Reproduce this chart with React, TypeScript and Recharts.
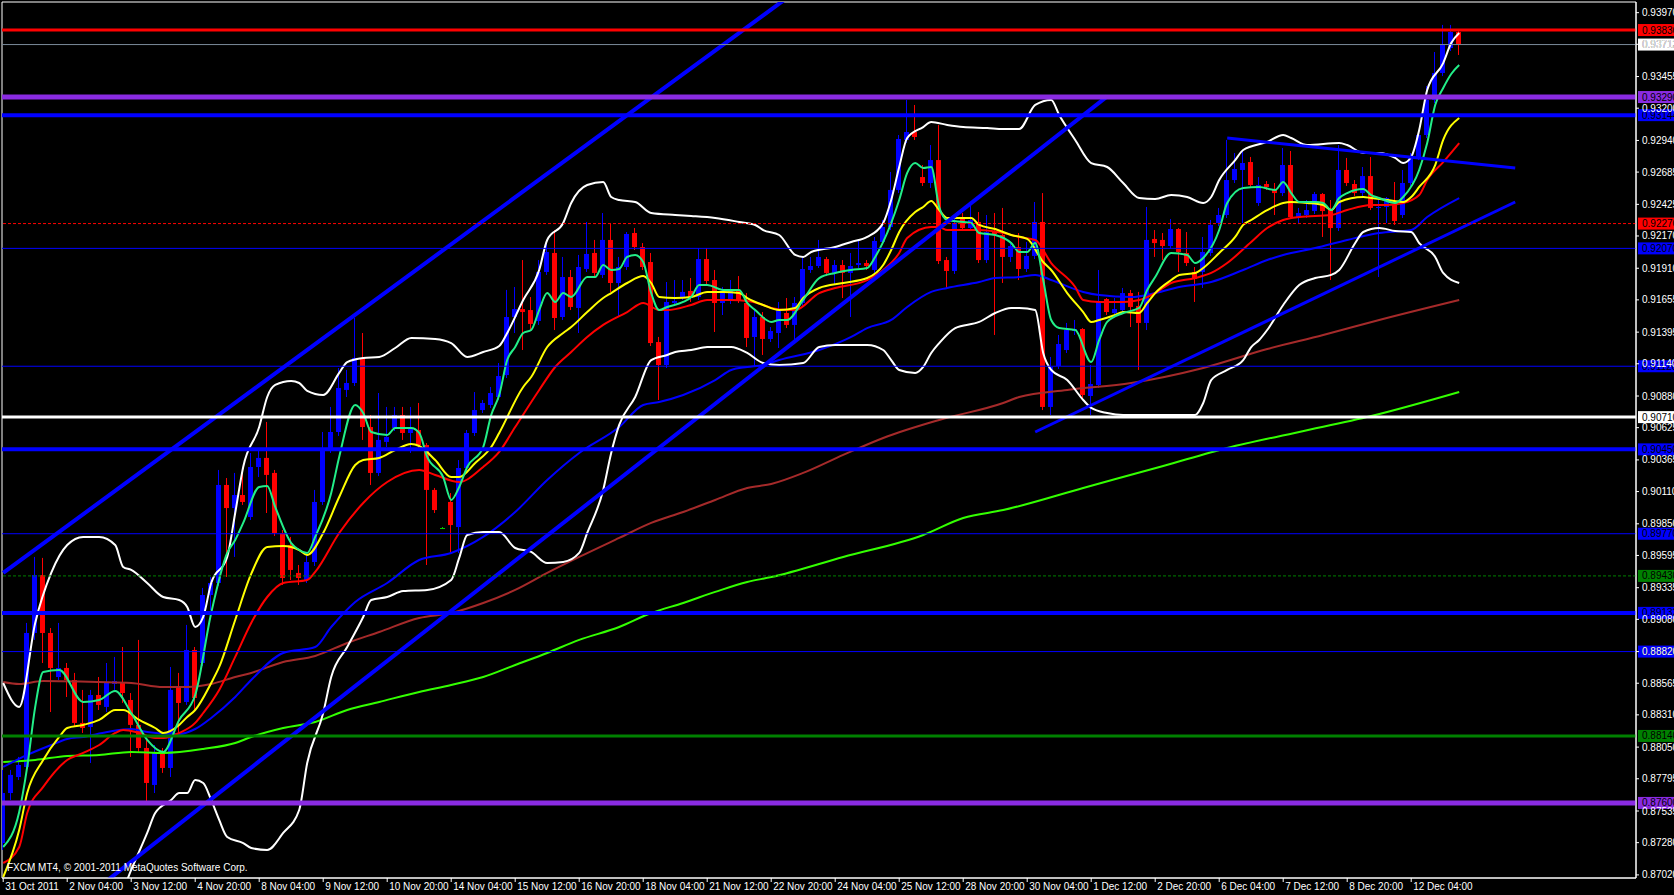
import { Bar, ComposedChart, Line, ReferenceArea, ReferenceLine, XAxis, YAxis } from "recharts";

const FONT = "'Liberation Sans', Arial, sans-serif";

// H4 candles, bar 0 = 31 Oct 2011 20:00
const opens = [
  0.87277, 0.8768, 0.87809, 0.8789, 0.8897, 0.89437, 0.8897, 0.88615, 0.88688, 0.88591,
  0.88245, 0.88212, 0.8847, 0.88374, 0.88559, 0.88575, 0.8843, 0.88229, 0.88043, 0.87745,
  0.88003, 0.87882, 0.88527, 0.88414, 0.88833, 0.88728, 0.89276, 0.89373, 0.90163, 0.89977,
  0.90082, 0.89905, 0.90308, 0.90381, 0.9026, 0.89776, 0.89679, 0.89454, 0.89397, 0.89542,
  0.90026, 0.90445, 0.9059, 0.90929, 0.90985, 0.91187, 0.9063, 0.9026, 0.9051, 0.90622,
  0.90727, 0.90582, 0.90606, 0.90485, 0.90123, 0.89816, 0.90026, 0.89824, 0.903, 0.90582,
  0.90767, 0.90808, 0.90872, 0.91049, 0.91517, 0.91581, 0.91573, 0.91485, 0.9188, 0.92033,
  0.91517, 0.91839, 0.9159, 0.91904, 0.92033, 0.91856, 0.92138, 0.91791, 0.9192, 0.92194,
  0.92081, 0.9196, 0.91315, 0.9113, 0.9163, 0.91678, 0.91727, 0.91678, 0.91984, 0.91815,
  0.9163, 0.91646, 0.91735, 0.9163, 0.91356, 0.91517, 0.9134, 0.91388, 0.91549, 0.91453,
  0.9163, 0.91896, 0.91928, 0.91984, 0.91872, 0.91936, 0.91872, 0.91936, 0.91952, 0.91896,
  0.92122, 0.92242, 0.92541, 0.92944, 0.93008, 0.92645, 0.92597, 0.92782, 0.91976, 0.91888,
  0.92315, 0.92234, 0.92283, 0.91976, 0.92202, 0.92178, 0.92001, 0.92081, 0.91904, 0.92009,
  0.92283, 0.90792, 0.91122, 0.91251, 0.91404, 0.9142, 0.9088, 0.90969, 0.91662, 0.91549,
  0.91573, 0.9171, 0.91606, 0.91469, 0.92146, 0.92138, 0.92089, 0.92226, 0.92033, 0.9188,
  0.9188, 0.92033, 0.92275, 0.92339, 0.92621, 0.92702, 0.92766, 0.92436, 0.92589, 0.92541,
  0.92516, 0.92742, 0.92323, 0.92339, 0.92371, 0.92508, 0.92379, 0.92234, 0.92702, 0.92589,
  0.92516, 0.92653, 0.92396, 0.92404, 0.9242, 0.92339, 0.92597, 0.92807, 0.92984, 0.93266,
  0.93484, 0.93685, 0.93814,
];
const highs = [
  0.87866, 0.87866, 0.87971, 0.89051, 0.89583, 0.89575, 0.8901, 0.89051, 0.88728, 0.88648,
  0.88511, 0.88511, 0.88615, 0.88728, 0.88777, 0.88857, 0.88486, 0.88914, 0.88108, 0.88067,
  0.88043, 0.88696, 0.88648, 0.89035, 0.88857, 0.89333, 0.89421, 0.90284, 0.90219, 0.9026,
  0.9026, 0.90421, 0.90461, 0.90671, 0.90284, 0.898, 0.89744, 0.89518, 0.89615, 0.90123,
  0.9059, 0.90792, 0.91106, 0.9109, 0.91509, 0.91388, 0.90727, 0.90904, 0.90792, 0.90792,
  0.90792, 0.90792, 0.90824, 0.90501, 0.90139, 0.89824, 0.90098, 0.90364, 0.90606, 0.90912,
  0.90848, 0.90953, 0.91146, 0.91735, 0.91759, 0.91976, 0.91678, 0.91976, 0.92113, 0.92218,
  0.92001, 0.91896, 0.92017, 0.92283, 0.92138, 0.92355, 0.92275, 0.92001, 0.92202, 0.92234,
  0.92113, 0.92033, 0.91356, 0.91799, 0.91815, 0.91815, 0.91831, 0.92073, 0.92073, 0.91896,
  0.91759, 0.91815, 0.91847, 0.9171, 0.91573, 0.91557, 0.91436, 0.91638, 0.9167, 0.91678,
  0.91993, 0.92001, 0.92138, 0.92001, 0.91976, 0.91976, 0.92033, 0.92138, 0.91976, 0.92162,
  0.92299, 0.92686, 0.92984, 0.93266, 0.93226, 0.92742, 0.92903, 0.93065, 0.92001, 0.92323,
  0.92355, 0.9242, 0.92363, 0.92339, 0.92355, 0.92396, 0.92122, 0.92194, 0.92122, 0.92444,
  0.92516, 0.91195, 0.91372, 0.91469, 0.91493, 0.91428, 0.9113, 0.91896, 0.9167, 0.9167,
  0.91751, 0.91735, 0.91719, 0.92404, 0.92218, 0.92194, 0.92307, 0.92234, 0.92202, 0.9192,
  0.92162, 0.92299, 0.92396, 0.92944, 0.92839, 0.92863, 0.92807, 0.92645, 0.92613, 0.92597,
  0.92879, 0.92855, 0.92396, 0.9246, 0.92525, 0.92516, 0.9246, 0.92903, 0.92799, 0.92621,
  0.92726, 0.92807, 0.9246, 0.92484, 0.92605, 0.92702, 0.92839, 0.93008, 0.93379, 0.93653,
  0.93871, 0.93871, 0.9383,
];
const lows = [
  0.87221, 0.87624, 0.87785, 0.87866, 0.88914, 0.88728, 0.88333, 0.88591, 0.88454, 0.88212,
  0.88164, 0.87922, 0.88349, 0.88333, 0.88511, 0.88406, 0.87971, 0.88011, 0.87608, 0.8768,
  0.87842, 0.87809, 0.88164, 0.8839, 0.88349, 0.88704, 0.89155, 0.89349, 0.89421, 0.89583,
  0.90002, 0.89881, 0.90227, 0.89937, 0.89752, 0.89357, 0.89397, 0.89357, 0.89373, 0.8951,
  0.90002, 0.90421, 0.90558, 0.90872, 0.90961, 0.90526, 0.90163, 0.90235, 0.90469, 0.90598,
  0.90526, 0.90421, 0.90461, 0.89518, 0.89937, 0.89808, 0.89615, 0.89615, 0.90268, 0.90558,
  0.90743, 0.90783, 0.90848, 0.91025, 0.91388, 0.91251, 0.91412, 0.91453, 0.91856, 0.91412,
  0.91493, 0.91573, 0.91388, 0.9188, 0.91839, 0.91831, 0.91719, 0.91517, 0.91896, 0.92057,
  0.91896, 0.91283, 0.90848, 0.91106, 0.91606, 0.91654, 0.91638, 0.91654, 0.91783, 0.91396,
  0.91533, 0.91622, 0.9163, 0.91275, 0.91114, 0.91211, 0.91315, 0.91267, 0.91428, 0.91307,
  0.91606, 0.91872, 0.91912, 0.91847, 0.91775, 0.9167, 0.91517, 0.91912, 0.91896, 0.91872,
  0.92097, 0.92218, 0.92516, 0.92919, 0.92944, 0.92573, 0.92557, 0.91944, 0.91751, 0.91864,
  0.9221, 0.9221, 0.91952, 0.91952, 0.91372, 0.91791, 0.9196, 0.91815, 0.9188, 0.91984,
  0.90767, 0.90727, 0.91098, 0.91227, 0.91372, 0.90864, 0.90727, 0.90945, 0.91533, 0.91525,
  0.91557, 0.91436, 0.9109, 0.91412, 0.92001, 0.91976, 0.92065, 0.9188, 0.91928, 0.91638,
  0.91751, 0.92009, 0.9225, 0.92315, 0.92597, 0.92275, 0.92557, 0.92412, 0.92541, 0.92339,
  0.92492, 0.92315, 0.92275, 0.92315, 0.92347, 0.92162, 0.91815, 0.9221, 0.92573, 0.92492,
  0.92492, 0.92379, 0.91839, 0.92275, 0.92259, 0.92315, 0.92573, 0.92782, 0.9296, 0.93242,
  0.93459, 0.93661, 0.93629,
];
const closes = [
  0.8768, 0.87826, 0.87906, 0.8897, 0.89437, 0.8897, 0.88688, 0.88688, 0.88591, 0.88245,
  0.88204, 0.8847, 0.8839, 0.88567, 0.88583, 0.88486, 0.88229, 0.88043, 0.87761, 0.88003,
  0.87882, 0.88511, 0.88406, 0.88833, 0.88446, 0.89276, 0.89373, 0.90163, 0.89977, 0.90082,
  0.90026, 0.90308, 0.90381, 0.90244, 0.89776, 0.89413, 0.89478, 0.89413, 0.89542, 0.90026,
  0.90445, 0.9059, 0.90945, 0.90985, 0.91187, 0.9063, 0.9026, 0.90526, 0.9055, 0.90727,
  0.90582, 0.90622, 0.90485, 0.90123, 0.89961, 0.89816, 0.8984, 0.903, 0.90582, 0.90767,
  0.90824, 0.90904, 0.91041, 0.91517, 0.91581, 0.91557, 0.91461, 0.9188, 0.92041, 0.91509,
  0.91839, 0.91598, 0.9192, 0.92025, 0.91872, 0.92138, 0.91791, 0.9192, 0.92186, 0.92081,
  0.9192, 0.91307, 0.9113, 0.91638, 0.91646, 0.91719, 0.9167, 0.91984, 0.91807, 0.9163,
  0.91719, 0.91735, 0.91654, 0.91348, 0.91517, 0.9134, 0.91404, 0.91573, 0.91453, 0.9163,
  0.91904, 0.91928, 0.92001, 0.91872, 0.91936, 0.91872, 0.91928, 0.91952, 0.91928, 0.9213,
  0.92242, 0.92541, 0.92952, 0.93008, 0.92968, 0.92597, 0.92782, 0.91968, 0.91888, 0.92275,
  0.92234, 0.92299, 0.91976, 0.92202, 0.92186, 0.92001, 0.92089, 0.91904, 0.92009, 0.92283,
  0.90792, 0.91114, 0.91299, 0.91412, 0.9142, 0.90888, 0.90977, 0.91646, 0.91557, 0.91581,
  0.9171, 0.91598, 0.91469, 0.92138, 0.92113, 0.92089, 0.92226, 0.92041, 0.91952, 0.91823,
  0.92041, 0.92259, 0.92339, 0.92621, 0.9271, 0.92758, 0.92581, 0.92581, 0.92565, 0.92516,
  0.92742, 0.92323, 0.92355, 0.92379, 0.92508, 0.92371, 0.92234, 0.92702, 0.92597, 0.92516,
  0.92653, 0.92396, 0.92404, 0.92476, 0.92291, 0.92597, 0.92807, 0.92984, 0.93266, 0.93484,
  0.93709, 0.93814, 0.93713,
];

// time axis labels, one every 8 bars
const timeLabels = [
  "31 Oct 2011", "2 Nov 04:00", "3 Nov 12:00", "4 Nov 20:00", "8 Nov 04:00", "9 Nov 12:00",
  "10 Nov 20:00", "14 Nov 04:00", "15 Nov 12:00", "16 Nov 20:00", "18 Nov 04:00", "21 Nov 12:00",
  "22 Nov 20:00", "24 Nov 04:00", "25 Nov 12:00", "28 Nov 20:00", "30 Nov 04:00", "1 Dec 12:00",
  "2 Dec 20:00", "6 Dec 04:00", "7 Dec 12:00", "8 Dec 20:00", "12 Dec 04:00",
];
const timeTickBars = timeLabels.map((_, k) => k * 8);

const priceTicks = [
  0.8702, 0.8728, 0.87535, 0.87795, 0.8805, 0.8831, 0.88565, 0.8882, 0.8908, 0.89335,
  0.89595, 0.8985, 0.9011, 0.90365, 0.90625, 0.9088, 0.9114, 0.91395, 0.91655, 0.9191,
  0.9217, 0.92425, 0.92685, 0.9294, 0.932, 0.93455, 0.93715, 0.9397,
];

// indicator readings: [bar, price]
const fastMa = [
  [0, 0.87245], [2, 0.87527], [3, 0.8789], [4, 0.88374], [5, 0.88656], [7, 0.88672], [10, 0.88414],
  [12, 0.8843], [14, 0.88503], [16, 0.88325], [18, 0.88108], [20, 0.88011], [22, 0.88269],
  [24, 0.8847], [26, 0.89131], [28, 0.89615], [29, 0.8972], [30, 0.89857], [32, 0.90147],
  [33, 0.90155], [34, 0.89986], [36, 0.89695], [37, 0.89639], [38, 0.89615], [39, 0.89744],
  [41, 0.90098], [42, 0.90389], [44, 0.90808], [45, 0.90743], [46, 0.9059], [48, 0.90566],
  [49, 0.90622], [51, 0.90622], [52, 0.90582], [53, 0.90389], [55, 0.90227], [56, 0.90042],
  [57, 0.90147], [58, 0.90308], [60, 0.90469], [61, 0.90727], [62, 0.90888], [63, 0.9117],
  [64, 0.91275], [65, 0.91388], [66, 0.91412], [67, 0.91573], [68, 0.9171], [69, 0.91638],
  [70, 0.9171], [71, 0.91678], [73, 0.91839], [74, 0.91839], [75, 0.91936], [76, 0.91896],
  [77, 0.91904], [78, 0.92001], [79, 0.92017], [80, 0.9196], [81, 0.9171], [82, 0.91573],
  [83, 0.91598], [85, 0.91638], [86, 0.91678], [87, 0.91775], [88, 0.91775], [90, 0.91735],
  [92, 0.91735], [93, 0.9163], [94, 0.91573], [96, 0.91477], [97, 0.91493], [98, 0.91493],
  [100, 0.91654], [102, 0.91831], [104, 0.91872], [106, 0.91896], [108, 0.91912], [109, 0.92001],
  [110, 0.92122], [112, 0.9246], [113, 0.92678], [114, 0.92758], [115, 0.92718], [116, 0.92726],
  [117, 0.92404], [118, 0.92299], [120, 0.92283], [121, 0.92275], [122, 0.92194], [124, 0.92178],
  [126, 0.92113], [127, 0.92041], [128, 0.92041], [129, 0.92113], [130, 0.91815], [131, 0.91493],
  [132, 0.91428], [134, 0.91412], [136, 0.91154], [137, 0.91332], [138, 0.91477], [140, 0.91549],
  [142, 0.9159], [143, 0.91735], [144, 0.91839], [146, 0.92033], [148, 0.92017], [149, 0.91952],
  [150, 0.91993], [152, 0.92218], [153, 0.92436], [155, 0.92557], [157, 0.92565], [159, 0.92541],
  [160, 0.92605], [161, 0.92516], [162, 0.92444], [164, 0.92444], [165, 0.92436], [166, 0.92379],
  [167, 0.92476], [168, 0.92516], [170, 0.92549], [171, 0.925], [172, 0.92476], [174, 0.92436],
  [175, 0.92484], [177, 0.92702], [178, 0.92919], [179, 0.93226], [180, 0.93363], [181, 0.93476],
  [182, 0.93548],
];
const yellowMa = [
  [0, 0.87003], [2, 0.87382], [3, 0.8768], [5, 0.87946], [7, 0.88132], [8, 0.88204], [10, 0.88229],
  [12, 0.88269], [14, 0.88349], [15, 0.88349], [17, 0.88269], [19, 0.88204], [20, 0.88164],
  [22, 0.88229], [23, 0.88293], [24, 0.88349], [26, 0.88567], [27, 0.88696], [29, 0.89075],
  [31, 0.89446], [33, 0.89663], [35, 0.89671], [37, 0.89639], [38, 0.89599], [40, 0.89776],
  [42, 0.90066], [44, 0.90324], [45, 0.90364], [47, 0.90381], [49, 0.90445], [51, 0.90493],
  [52, 0.90477], [54, 0.90364], [56, 0.90227], [57, 0.90227], [59, 0.9034], [61, 0.90469],
  [62, 0.90582], [65, 0.90953], [66, 0.91033], [68, 0.91275], [70, 0.91388], [71, 0.91436],
  [73, 0.91557], [75, 0.9167], [76, 0.9171], [78, 0.91791], [80, 0.91847], [81, 0.91791],
  [82, 0.91678], [84, 0.9167], [86, 0.91678], [88, 0.91719], [90, 0.91719], [92, 0.9171],
  [93, 0.9167], [95, 0.91614], [97, 0.91573], [99, 0.9159], [100, 0.9167], [102, 0.91751],
  [105, 0.91791], [108, 0.91831], [110, 0.91936], [111, 0.92057], [112, 0.92202], [114, 0.92363],
  [115, 0.92404], [116, 0.92452], [117, 0.92379], [118, 0.92315], [120, 0.92315], [121, 0.92315],
  [122, 0.92259], [124, 0.92226], [126, 0.92178], [128, 0.92146], [130, 0.9196], [131, 0.91896],
  [133, 0.9171], [135, 0.91557], [136, 0.91477], [137, 0.91493], [139, 0.91533], [140, 0.91557],
  [142, 0.91549], [143, 0.9163], [144, 0.9171], [146, 0.91815], [147, 0.91856], [149, 0.91872],
  [150, 0.91912], [152, 0.92033], [154, 0.92162], [155, 0.92259], [156, 0.92299], [158, 0.92379],
  [160, 0.92436], [161, 0.92444], [163, 0.92436], [165, 0.9242], [166, 0.92379], [167, 0.92444],
  [170, 0.92484], [171, 0.92476], [173, 0.9246], [175, 0.92444], [176, 0.92484], [177, 0.92565],
  [179, 0.92742], [180, 0.92944], [182, 0.93121],
];
const redMa = [
  [0, 0.87116], [2, 0.87245], [3, 0.87519], [5, 0.87729], [8, 0.87946], [10, 0.88003], [12, 0.88067],
  [14, 0.88164], [15, 0.88188], [17, 0.88164], [19, 0.88124], [20, 0.88124], [22, 0.88164],
  [24, 0.88245], [25, 0.88325], [27, 0.88511], [29, 0.88777], [31, 0.89051], [33, 0.8926],
  [35, 0.89373], [38, 0.89397], [39, 0.89462], [42, 0.89776], [45, 0.90018], [48, 0.90187],
  [52, 0.90284], [54, 0.90244], [57, 0.90187], [60, 0.90308], [62, 0.90429], [64, 0.9063],
  [67, 0.90929], [69, 0.91114], [71, 0.91235], [73, 0.91356], [75, 0.91453], [78, 0.91557],
  [80, 0.9163], [82, 0.91573], [83, 0.91573], [86, 0.91614], [88, 0.91654], [91, 0.91654],
  [93, 0.91646], [95, 0.91614], [96, 0.9159], [98, 0.91573], [99, 0.91573], [102, 0.9171],
  [104, 0.91751], [108, 0.91815], [110, 0.91896], [112, 0.92033], [113, 0.92154], [116, 0.92242],
  [117, 0.92242], [118, 0.92218], [122, 0.92218], [125, 0.92194], [127, 0.92162], [129, 0.92138],
  [131, 0.91952], [134, 0.91759], [135, 0.91654], [137, 0.91638], [140, 0.91638], [142, 0.91654],
  [144, 0.9171], [146, 0.91791], [149, 0.91831], [151, 0.91872], [153, 0.91952], [156, 0.92122],
  [158, 0.92234], [160, 0.92299], [162, 0.92323], [166, 0.92339], [168, 0.92379], [171, 0.9242],
  [173, 0.9242], [175, 0.92436], [177, 0.925], [178, 0.92621], [180, 0.92766], [182, 0.92919],
];
const blueMa = [
  [0, 0.8789], [3, 0.87987], [6, 0.88067], [8, 0.88116], [10, 0.88132], [13, 0.88172], [16, 0.88196],
  [18, 0.88172], [21, 0.88156], [22, 0.88156], [24, 0.88196], [26, 0.88285], [29, 0.88454],
  [31, 0.88591], [35, 0.88809], [39, 0.88857], [41, 0.89018], [44, 0.8922], [48, 0.89373],
  [52, 0.89558], [56, 0.89615], [60, 0.89744], [64, 0.89945], [68, 0.90203], [72, 0.90421],
  [77, 0.9063], [80, 0.90808], [82, 0.90832], [85, 0.90888], [89, 0.91009], [91, 0.9109],
  [93, 0.91114], [95, 0.9113], [97, 0.9117], [102, 0.91251], [106, 0.91356], [108, 0.91428],
  [111, 0.91493], [113, 0.91598], [116, 0.91719], [118, 0.91751], [122, 0.91799], [124, 0.91831],
  [127, 0.91839], [129, 0.91856], [131, 0.91815], [135, 0.91719], [137, 0.91694], [141, 0.91678],
  [144, 0.9171], [147, 0.91759], [151, 0.91799], [155, 0.91896], [158, 0.91976], [160, 0.92017],
  [164, 0.92073], [168, 0.92138], [172, 0.92194], [176, 0.92218], [178, 0.92323], [182, 0.92476],
];
const brownMa = [
  [0, 0.88575], [2, 0.88559], [5, 0.88583], [12, 0.88575], [16, 0.88567], [20, 0.88535], [23, 0.88535],
  [26, 0.88559], [29, 0.88615], [31, 0.88648], [35, 0.88736], [39, 0.88785], [43, 0.88889],
  [47, 0.88978], [52, 0.89091], [56, 0.89131], [60, 0.89212], [64, 0.89317], [68, 0.89454],
  [72, 0.89583], [77, 0.89736], [81, 0.89857], [85, 0.89945], [89, 0.90042], [93, 0.90139],
  [96, 0.90171], [100, 0.9026], [105, 0.90405], [110, 0.90542], [117, 0.90687], [125, 0.90824],
  [127, 0.90872], [133, 0.90929], [141, 0.90985], [150, 0.91106], [158, 0.91259], [165, 0.91372],
  [172, 0.91493], [182, 0.91654],
];
const limeMa = [
  [0, 0.8793], [4, 0.87946], [8, 0.87979], [12, 0.87987], [16, 0.88011], [20, 0.88003], [25, 0.88035],
  [29, 0.88083], [31, 0.88132], [35, 0.88204], [39, 0.88253], [43, 0.88349], [47, 0.88414],
  [52, 0.88495], [56, 0.88551], [60, 0.88615], [64, 0.88712], [68, 0.88809], [72, 0.88914],
  [77, 0.89018], [81, 0.89131], [85, 0.89212], [89, 0.89301], [93, 0.89381], [96, 0.89421],
  [105, 0.89583], [115, 0.8976], [120, 0.89897], [125, 0.89961], [135, 0.90139], [145, 0.90316],
  [153, 0.90461], [162, 0.9059], [171, 0.90719], [182, 0.90913],
];
const bandUpper = [
  [0, 0.88567], [2, 0.88374], [4, 0.89051], [6, 0.89454], [8, 0.89679], [10, 0.89744], [12, 0.89744],
  [14, 0.89679], [15, 0.89502], [16, 0.89478], [18, 0.89373], [20, 0.8926], [22, 0.89236],
  [23, 0.8918], [24, 0.89018], [25, 0.89099], [26, 0.89373], [28, 0.89583], [29, 0.89937],
  [30, 0.90308], [32, 0.9063], [33, 0.90872], [34, 0.90969], [36, 0.91001], [37, 0.90985],
  [38, 0.90921], [40, 0.90888], [42, 0.91066], [43, 0.91154], [45, 0.91187], [47, 0.91195],
  [49, 0.91267], [51, 0.91348], [54, 0.9134], [56, 0.91307], [58, 0.91195], [60, 0.91235],
  [62, 0.91283], [63, 0.91388], [65, 0.91654], [67, 0.91896], [68, 0.92138], [70, 0.92275],
  [71, 0.92436], [73, 0.92581], [75, 0.92605], [76, 0.92484], [77, 0.9246], [79, 0.92444],
  [81, 0.92355], [84, 0.92339], [86, 0.92331], [89, 0.92315], [92, 0.92283], [94, 0.92259],
  [95, 0.92218], [97, 0.92178], [99, 0.92017], [100, 0.92001], [101, 0.92041], [104, 0.92081],
  [106, 0.92122], [108, 0.92162], [110, 0.92275], [111, 0.9246], [112, 0.92726], [113, 0.9296],
  [115, 0.93048], [116, 0.93089], [118, 0.93065], [120, 0.93048], [123, 0.9304], [125, 0.93032],
  [127, 0.93032], [129, 0.93226], [131, 0.93266], [132, 0.93145], [134, 0.92944], [136, 0.92758],
  [138, 0.92726], [140, 0.92597], [142, 0.92476], [144, 0.92468], [146, 0.925], [148, 0.92484],
  [150, 0.92436], [151, 0.92484], [152, 0.92621], [154, 0.92782], [155, 0.92863], [158, 0.92928],
  [160, 0.92984], [161, 0.9296], [163, 0.92903], [167, 0.92919], [168, 0.92903], [170, 0.92839],
  [172, 0.92839], [174, 0.92799], [175, 0.92758], [176, 0.92807], [177, 0.93024], [178, 0.93347],
  [180, 0.93564], [181, 0.93725], [182, 0.93806],
];
const bandLower = [
  [0, 0.86173], [5, 0.86012], [10, 0.86334], [14, 0.86737], [16, 0.8706], [18, 0.87358], [19, 0.87519],
  [21, 0.87624], [22, 0.8768], [23, 0.8768], [24, 0.87785], [25, 0.87761], [26, 0.87624],
  [27, 0.87463], [28, 0.87326], [30, 0.87277], [31, 0.87237], [33, 0.87221], [35, 0.87358],
  [37, 0.87543], [38, 0.87922], [40, 0.88325], [41, 0.88615], [43, 0.88857], [45, 0.89099],
  [46, 0.89236], [48, 0.8926], [50, 0.89308], [53, 0.89317], [56, 0.89397], [57, 0.89575],
  [58, 0.8976], [60, 0.89784], [62, 0.89784], [64, 0.89655], [66, 0.89623], [68, 0.89534],
  [70, 0.89542], [72, 0.89615], [73, 0.89776], [75, 0.90123], [76, 0.90421], [77, 0.90647],
  [79, 0.90872], [81, 0.9117], [83, 0.91211], [84, 0.91235], [86, 0.91251], [88, 0.91275],
  [91, 0.91275], [93, 0.91227], [95, 0.91146], [97, 0.9113], [100, 0.91146], [102, 0.91275],
  [104, 0.91291], [108, 0.91291], [110, 0.91251], [111, 0.9117], [112, 0.9109], [114, 0.91066],
  [115, 0.91114], [116, 0.91227], [117, 0.91307], [119, 0.91428], [122, 0.91477], [124, 0.91549],
  [126, 0.9159], [127, 0.9159], [129, 0.91573], [130, 0.91227], [131, 0.9109], [133, 0.91009],
  [135, 0.90848], [136, 0.90784], [138, 0.90743], [140, 0.90727], [145, 0.90727], [149, 0.90727],
  [150, 0.90824], [151, 0.91009], [153, 0.9109], [155, 0.9117], [156, 0.91275], [157, 0.91332],
  [158, 0.91412], [160, 0.91614], [162, 0.91775], [164, 0.91831], [166, 0.91856], [167, 0.91896],
  [169, 0.92113], [170, 0.92202], [172, 0.92234], [174, 0.9221], [176, 0.92202], [177, 0.92113],
  [179, 0.92001], [180, 0.91872], [182, 0.91791],
];

// drawn trend lines: [bar, price] end points
const channelTop = [[0, 0.89454], [100, 0.94185]];
const channelBottom = [[10, 0.86823], [138, 0.93295]];
const supportLine = [[129, 0.9059], [189, 0.92444]];
const resistLine = [[153, 0.9296], [189, 0.92718]];

// horizontal levels
const levelPrices = [
  0.9383, 0.93713, 0.9329, 0.93144, 0.9227, 0.9207, 0.9112, 0.9071, 0.9045, 0.8977, 0.8943,
  0.89132, 0.8882, 0.8814, 0.876,
];
const levelStyles = [
  { stroke: "#ff0000", width: 3, tag: "#ff0000" },
  { stroke: "#7a8a9a", width: 1, tag: "#ffffff" },
  { stroke: "#8a2be2", width: 5, tag: "#8a2be2" },
  { stroke: "#0000ff", width: 4, tag: "#0000ff" },
  { stroke: "#ff0000", width: 1, tag: "#ff0000", dash: "3 2" },
  { stroke: "#0000ff", width: 1, tag: "#0000ff" },
  { stroke: "#0000ff", width: 1, tag: "#0000ff" },
  { stroke: "#ffffff", width: 3, tag: "#ffffff" },
  { stroke: "#0000ff", width: 4, tag: "#0000ff" },
  { stroke: "#0000ff", width: 1, tag: "#0000ff" },
  { stroke: "#008000", width: 1, tag: "#008000", dash: "3 2" },
  { stroke: "#0000ff", width: 4, tag: "#0000ff" },
  { stroke: "#0000ff", width: 1, tag: "#0000ff" },
  { stroke: "#008000", width: 3, tag: "#008000" },
  { stroke: "#8a2be2", width: 5, tag: "#8a2be2" },
];

const X_DOMAIN = [-0.15, 204.1];
const Y_DOMAIN = [0.86995, 0.94056];

// one row per bar, candles plus sparse indicator readings
const rowMap = new Map<number, any>();
const rowAt = (i: number) => {
  if (!rowMap.has(i)) rowMap.set(i, { i });
  return rowMap.get(i);
};
opens.forEach((o, i) => {
  const r = rowAt(i);
  r.open = o;
  r.high = highs[i];
  r.low = lows[i];
  r.close = closes[i];
  r.range = [lows[i], highs[i]];
});
const addSeries = (key: string, pts: number[][]) =>
  pts.forEach(([i, v]) => {
    rowAt(i)[key] = v;
  });
addSeries("fast", fastMa);
addSeries("yellow", yellowMa);
addSeries("red", redMa);
addSeries("blue", blueMa);
addSeries("brown", brownMa);
addSeries("lime", limeMa);
addSeries("bbUp", bandUpper);
addSeries("bbLo", bandLower);
addSeries("chTop", channelTop);
addSeries("chBot", channelBottom);
addSeries("support", supportLine);
addSeries("resist", resistLine);
const data = [...rowMap.values()].sort((a, b) => a.i - b.i);

function Candle(props: any) {
  const { x, y, width, height, payload } = props;
  if (!payload || payload.open == null) return null;
  const { open, close, high, low } = payload;
  const top = Math.min(y, y + height);
  const h = Math.abs(height);
  const span = high - low || 1;
  const toY = (v: number) => top + ((high - v) / span) * h;
  const color = close > open ? "#0000ff" : close < open ? "#ff0000" : "#00c800";
  const cx = Math.floor(x + width / 2) + 0.5;
  const bTop = toY(Math.max(open, close));
  const bBot = toY(Math.min(open, close));
  return (
    <g>
      <line x1={cx} x2={cx} y1={top} y2={top + h} stroke={color} strokeWidth={1} />
      <rect x={cx - 2.5} y={bTop} width={5} height={Math.max(1, bBot - bTop)} fill={color} />
    </g>
  );
}

function TimeTick(props: any) {
  const { x, y, payload } = props;
  const idx = timeTickBars.indexOf(payload.value);
  return (
    <text x={x + 2} y={y + 8} fill="#fff" fontSize={10} fontFamily={FONT}>
      {timeLabels[idx]}
    </text>
  );
}

function PriceTick(props: any) {
  const { x, y, payload } = props;
  return (
    <text x={x} y={y + 3.5} fill="#fff" fontSize={10} fontFamily={FONT}>
      {payload.value.toFixed(5)}
    </text>
  );
}

function tagFor(price: number, bg: string) {
  return (props: any) => {
    const vb = props.viewBox;
    if (!vb) return null;
    const x = vb.x + vb.width + 2;
    const y = vb.y;
    return (
      <g>
        <rect x={x} y={y - 6} width={40} height={12} fill={bg} />
        <text x={x + 4} y={y + 3.5} fill="#000" fontSize={10} fontFamily={FONT}>
          {price.toFixed(5)}
        </text>
      </g>
    );
  };
}

const lineProps = {
  dot: false,
  activeDot: false,
  isAnimationActive: false,
  connectNulls: true,
} as const;

export default function App() {
  return (
    <div
      style={{
        position: "absolute",
        left: 0,
        top: 0,
        width: 1674,
        height: 895,
        background: "#000",
        overflow: "hidden",
      }}
    >
      <ComposedChart width={1674} height={895} data={data} margin={{ top: 2, right: 0, bottom: 0, left: 2 }}>
        <XAxis
          dataKey="i"
          type="number"
          domain={X_DOMAIN}
          allowDataOverflow
          ticks={timeTickBars}
          interval={0}
          tick={(p: any) => <TimeTick {...p} />}
          tickSize={4}
          tickMargin={0}
          height={17}
          axisLine={{ stroke: "#fff" }}
          tickLine={{ stroke: "#fff" }}
        />
        <YAxis
          orientation="right"
          type="number"
          domain={Y_DOMAIN}
          allowDataOverflow
          ticks={priceTicks}
          interval={0}
          width={38}
          tickSize={3}
          tickMargin={3}
          tick={(p: any) => <PriceTick {...p} />}
          axisLine={{ stroke: "#fff" }}
          tickLine={{ stroke: "#fff" }}
        />
        <ReferenceArea
          x1={X_DOMAIN[0]}
          x2={X_DOMAIN[1]}
          y1={Y_DOMAIN[0]}
          y2={Y_DOMAIN[1]}
          fill="none"
          stroke="#fff"
          strokeWidth={1}
        />
        <Bar dataKey="range" barSize={5} shape={(p: any) => <Candle {...p} />} isAnimationActive={false} />
        <Line dataKey="lime" stroke="#33ff00" strokeWidth={2} type="monotone" {...lineProps} />
        <Line dataKey="brown" stroke="#a52a2a" strokeWidth={2} type="monotone" {...lineProps} />
        <Line dataKey="blue" stroke="#0000ff" strokeWidth={2} type="monotone" {...lineProps} />
        <Line dataKey="bbUp" stroke="#ffffff" strokeWidth={2} type="monotone" {...lineProps} />
        <Line dataKey="bbLo" stroke="#ffffff" strokeWidth={2} type="monotone" {...lineProps} />
        <Line dataKey="red" stroke="#ff0000" strokeWidth={2} type="monotone" {...lineProps} />
        <Line dataKey="yellow" stroke="#ffff00" strokeWidth={2} type="monotone" {...lineProps} />
        <Line dataKey="fast" stroke="#22ee88" strokeWidth={2} type="monotone" {...lineProps} />
        <Line dataKey="chTop" stroke="#0000ff" strokeWidth={4} type="linear" {...lineProps} />
        <Line dataKey="chBot" stroke="#0000ff" strokeWidth={4} type="linear" {...lineProps} />
        <Line dataKey="support" stroke="#0000ff" strokeWidth={3} type="linear" {...lineProps} />
        <Line dataKey="resist" stroke="#0000ff" strokeWidth={3} type="linear" {...lineProps} />
        {levelPrices.map((p, k) => (
          <ReferenceLine
            key={p}
            y={p}
            stroke={levelStyles[k].stroke}
            strokeWidth={levelStyles[k].width}
            strokeDasharray={levelStyles[k].dash}
            label={tagFor(p, levelStyles[k].tag)}
          />
        ))}
      </ComposedChart>
      <div
        style={{
          position: "absolute",
          left: 7,
          top: 862,
          color: "#fff",
          fontFamily: FONT,
          fontSize: 10,
          lineHeight: "12px",
          whiteSpace: "nowrap",
        }}
      >
        FXCM MT4, © 2001-2011 MetaQuotes Software Corp.
      </div>
    </div>
  );
}
